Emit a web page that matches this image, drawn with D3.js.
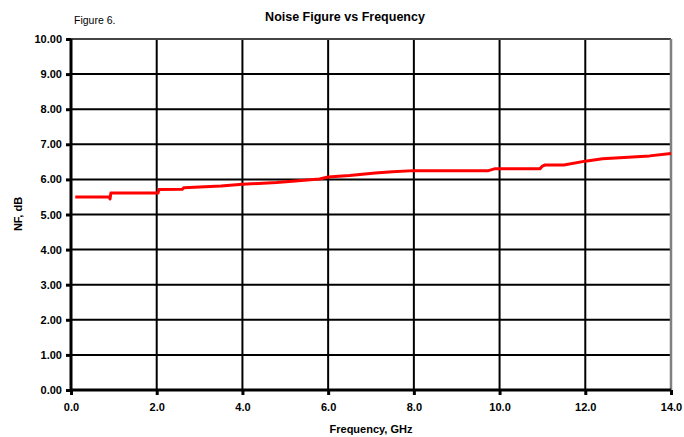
<!DOCTYPE html>
<html><head><meta charset="utf-8">
<script src="https://cdn.jsdelivr.net/npm/d3@7"></script>
<style>body{margin:0;background:#fff}svg{display:block;font-family:Arial,"Liberation Sans",sans-serif}</style>
</head><body><svg id="c" width="684" height="437"></svg>
<script>
const freqGHz = [0.1, 0.9, 0.91, 0.93, 2.03, 2.05, 2.6, 2.63, 3.5, 4.0, 4.8, 5.8, 6.0, 6.5, 7.1, 7.5, 8.0, 9.0, 9.74, 9.88, 10.94, 11.0, 11.06, 11.5, 12.0, 12.4, 13.0, 13.5, 14.0];
const nfDb    = [5.50, 5.50, 5.44, 5.61, 5.61, 5.71, 5.72, 5.76, 5.81, 5.86, 5.91, 6.01, 6.07, 6.11, 6.18, 6.22, 6.25, 6.25, 6.25, 6.30, 6.30, 6.38, 6.41, 6.41, 6.52, 6.59, 6.63, 6.67, 6.74];
const xTicks = [0, 2, 4, 6, 8, 10, 12, 14];
const yTicks = [0, 1, 2, 3, 4, 5, 6, 7, 8, 9, 10];

const svg = d3.select("#c");
const L = 71, R = 671, T = 39, B = 390;
const x = d3.scaleLinear().domain([0, 14]).range([L, R]);
const y = d3.scaleLinear().domain([0, 10]).range([B, T]);

// gridlines
svg.append("g").selectAll("line").data(xTicks.filter(d => d > 0 && d < 14)).join("line")
  .attr("x1", d => x(d)).attr("x2", d => x(d)).attr("y1", T).attr("y2", B)
  .attr("stroke", "#000").attr("stroke-width", 2);
svg.append("g").selectAll("line").data(yTicks.filter(d => d > 0 && d < 10)).join("line")
  .attr("x1", L).attr("x2", R).attr("y1", d => y(d)).attr("y2", d => y(d))
  .attr("stroke", "#000").attr("stroke-width", 2);
// frame top/right
svg.append("line").attr("x1", L).attr("x2", R).attr("y1", T).attr("y2", T).attr("stroke", "#444").attr("stroke-width", 2);
svg.append("line").attr("x1", R).attr("x2", R).attr("y1", T).attr("y2", B).attr("stroke", "#808080").attr("stroke-width", 2.5);

// axes
const yAxis = d3.axisLeft(y).tickValues(yTicks).tickFormat(d3.format(".2f")).tickSize(5).tickPadding(4);
const gy = svg.append("g").attr("transform", `translate(${L},0)`).call(yAxis);
const xAxis = d3.axisBottom(x).tickValues(xTicks).tickFormat(d3.format(".1f")).tickSize(5).tickPadding(8);
const gx = svg.append("g").attr("transform", `translate(0,${B})`).call(xAxis);
[gx, gy].forEach(g => {
  g.select(".domain").attr("stroke", "#000").attr("stroke-width", 3);
  g.selectAll(".tick line").attr("stroke", "#000").attr("stroke-width", 3);
  g.selectAll(".tick text").attr("font-size", 11).attr("font-weight", "bold").attr("fill", "#000")
    .attr("font-family", "Arial, 'Liberation Sans', sans-serif");
});
gy.select(".domain").attr("d", `M0,${B}V${T}`);
gx.select(".domain").attr("d", `M${L},0H${R}`);

// line
const data = freqGHz.map((f, i) => [f, nfDb[i]]);
svg.append("path").datum(data)
  .attr("fill", "none").attr("stroke", "#ff0000").attr("stroke-width", 3).attr("stroke-linejoin", "round")
  .attr("d", d3.line().x(d => x(d[0])).y(d => y(d[1])));

// texts
svg.append("text").attr("x", 345).attr("y", 21).attr("text-anchor", "middle")
  .attr("font-size", 12.5).attr("font-weight", "bold").text("Noise Figure vs Frequency");
svg.append("text").attr("x", 74).attr("y", 24).attr("font-size", 10.5).text("Figure 6.");
svg.append("text").attr("x", 371).attr("y", 433).attr("text-anchor", "middle")
  .attr("font-size", 11).attr("font-weight", "bold").text("Frequency, GHz");
svg.append("text").attr("transform", "translate(22,214) rotate(-90)").attr("text-anchor", "middle")
  .attr("font-size", 11).attr("font-weight", "bold").text("NF, dB");
</script></body></html>
